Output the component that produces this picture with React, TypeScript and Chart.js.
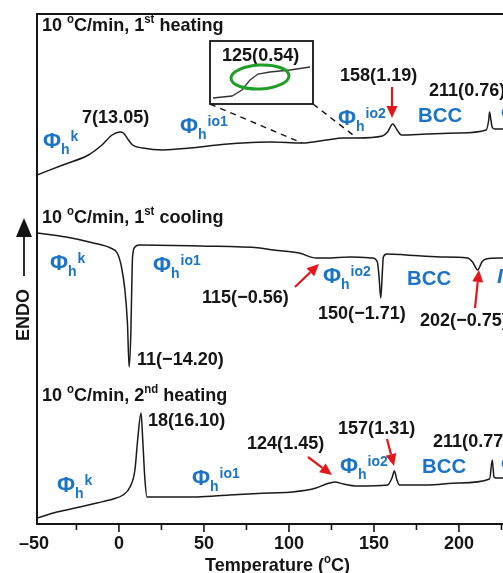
import React, { useEffect, useRef } from 'react';
import { Chart, registerables } from 'chart.js';

Chart.register(...registerables);

// ---- data (temperature in °C, heat flow in arbitrary stacked units) ----
const heat1T = [-48.2, -33, -18, -10, -4, 0.6, 2.6, 5.6, 8, 14, 26, 42, 58, 73, 89, 108, 122, 132, 140, 155, 158, 161, 164, 166, 181, 200, 216, 217.5, 218, 218.8, 219.5, 221, 226];
const heat1Y = [349, 359, 369, 379, 389, 392, 391, 384, 379, 376, 374, 376, 379, 381, 382, 381, 384, 386, 386, 388, 392, 400, 393, 389, 390, 391, 394, 404, 412, 404, 397, 395, 395];

const coolT = [-48.2, -31, -15, -5, -1, 1.5, 3.5, 5, 6, 7, 7.5, 8, 9.4, 12, 48, 83, 91, 106, 116, 122, 136, 149, 152, 153, 154, 155, 155.5, 157.6, 169, 189, 205, 208, 211, 213.5, 216, 226];
const coolY = [291, 287, 281, 276, 271, 257, 234, 201, 157, 191, 234, 267, 277, 279, 278, 276, 274, 271, 266, 266, 267, 266, 262, 247, 226, 254, 267, 270, 269, 267, 266, 262, 254, 262, 265, 266];

const heat2T = [-48.2, -36.5, -23, -13, -3.5, 2.4, 6.5, 9.4, 11, 13, 14, 15.3, 16.5, 20, 46, 65, 89, 102, 116, 122, 127, 132, 140, 158, 160.6, 162, 163.5, 165, 181, 200, 218, 219.6, 220.6, 222, 226];
const heat2Y = [6, 12, 17, 21, 25, 29, 37, 54, 84, 111, 84, 44, 27, 27, 27, 29, 31, 32, 36, 40, 42, 40, 38, 39, 46, 53, 44, 39, 39, 41, 45, 64, 47, 46, 46];

// inset (zoom of 1st heating around 125 °C)
const insetT = [100.5, 110, 115, 119, 123, 129, 139, 149];
const insetY = [6, 8, 14, 24, 30, 32, 34, 37];

const majorTicks = [-50, 0, 50, 100, 150, 200];
const minorTicks = [-25, 25, 75, 125, 175, 225];

const X_MIN = -48.2;
const X_MAX = 225.9;
const Y_MIN = 0;
const Y_MAX = 510;

const FONT = '"Liberation Sans", Arial, Helvetica, sans-serif';
const BLUE = '#1b74c5';
const RED = '#e3161c';
const INK = '#151515';

type Part = { t: string; size?: number; dy?: number; italic?: boolean };

function rich(ctx: CanvasRenderingContext2D, x: number, y: number, parts: Part[], base = 19, color = INK, sx = 0.95) {
  ctx.save();
  ctx.translate(x, y);
  ctx.scale(sx, 1);
  ctx.fillStyle = color;
  ctx.textBaseline = 'alphabetic';
  ctx.textAlign = 'left';
  let cx = 0;
  for (const p of parts) {
    const s = p.size ?? base;
    ctx.font = `${p.italic ? 'italic ' : ''}bold ${s}px ${FONT}`;
    ctx.fillText(p.t, cx, p.dy ?? 0);
    cx += ctx.measureText(p.t).width;
  }
  ctx.restore();
}

function phase(ctx: CanvasRenderingContext2D, x: number, y: number, sup: string) {
  ctx.save();
  ctx.fillStyle = BLUE;
  ctx.textBaseline = 'alphabetic';
  ctx.textAlign = 'left';
  ctx.font = `bold 22px ${FONT}`;
  ctx.fillText('Φ', x, y);
  const w = ctx.measureText('Φ').width;
  ctx.font = `bold 14px ${FONT}`;
  ctx.fillText('h', x + w, y + 6);
  const w2 = ctx.measureText('h').width;
  ctx.font = `bold 14px ${FONT}`;
  ctx.fillText(sup, x + w + w2 + 1, y - 7);
  ctx.restore();
}

function arrow(ctx: CanvasRenderingContext2D, x1: number, y1: number, x2: number, y2: number, color = RED) {
  const a = Math.atan2(y2 - y1, x2 - x1);
  const len = 12;
  const hw = 5.5;
  const bx = x2 - len * Math.cos(a);
  const by = y2 - len * Math.sin(a);
  ctx.save();
  ctx.strokeStyle = color;
  ctx.fillStyle = color;
  ctx.lineWidth = 2.2;
  ctx.beginPath();
  ctx.moveTo(x1, y1);
  ctx.lineTo(bx, by);
  ctx.stroke();
  ctx.beginPath();
  ctx.moveTo(x2, y2);
  ctx.lineTo(bx + hw * Math.sin(a), by - hw * Math.cos(a));
  ctx.lineTo(bx - hw * Math.sin(a), by + hw * Math.cos(a));
  ctx.closePath();
  ctx.fill();
  ctx.restore();
}

const decorPlugin = {
  id: 'decor',
  afterDatasetsDraw(chart: any) {
    const ctx: CanvasRenderingContext2D = chart.ctx;
    const { left, top, right, bottom } = chart.chartArea;
    const xs = chart.scales.x;
    ctx.save();

    // frame
    ctx.strokeStyle = INK;
    ctx.lineWidth = 2;
    ctx.beginPath();
    ctx.moveTo(right + 2, top);
    ctx.lineTo(left, top);
    ctx.lineTo(left, bottom);
    ctx.lineTo(right + 2, bottom);
    ctx.stroke();

    // ticks
    ctx.lineWidth = 1.6;
    for (const v of [...majorTicks, ...minorTicks]) {
      if (v < X_MIN || v > X_MAX + 1) continue;
      const px = xs.getPixelForValue(v);
      const len = majorTicks.includes(v) ? 8 : 6;
      ctx.beginPath();
      ctx.moveTo(px, bottom);
      ctx.lineTo(px, bottom + len);
      ctx.stroke();
    }
    // tick labels
    ctx.fillStyle = INK;
    for (const v of majorTicks) {
      const px = xs.getPixelForValue(v);
      const label = v < 0 ? '–' + Math.abs(v) : String(v);
      ctx.save();
      ctx.translate(px, bottom + 25);
      ctx.scale(0.95, 1);
      ctx.font = `bold 19px ${FONT}`;
      ctx.textAlign = 'center';
      ctx.textBaseline = 'alphabetic';
      ctx.fillText(label, 0, 0);
      ctx.restore();
    }
    // axis title
    rich(ctx, 205, 571, [{ t: 'Temperature (' }, { t: 'o', size: 12, dy: -8 }, { t: 'C)' }]);

    // ENDO
    ctx.save();
    ctx.translate(24, 315);
    ctx.rotate(-Math.PI / 2);
    ctx.font = `bold 18px ${FONT}`;
    ctx.textAlign = 'center';
    ctx.textBaseline = 'middle';
    ctx.fillStyle = INK;
    ctx.fillText('ENDO', 0, 0);
    ctx.restore();
    ctx.strokeStyle = INK;
    ctx.fillStyle = INK;
    ctx.lineWidth = 1.8;
    ctx.beginPath();
    ctx.moveTo(24, 276);
    ctx.lineTo(24, 236);
    ctx.stroke();
    ctx.beginPath();
    ctx.moveTo(24, 218);
    ctx.lineTo(16, 237);
    ctx.lineTo(32, 237);
    ctx.closePath();
    ctx.fill();

    const sup = (t: string): Part => ({ t, size: 12, dy: -8 });

    // ---- panel 1: 1st heating ----
    rich(ctx, 42, 31, [{ t: '10 ' }, sup('o'), { t: 'C/min, 1' }, sup('st'), { t: ' heating' }]);
    rich(ctx, 82, 123, [{ t: '7(13.05)' }]);
    phase(ctx, 43, 148, 'k');
    phase(ctx, 180, 133, 'io1');
    phase(ctx, 338, 125, 'io2');
    rich(ctx, 418, 122, [{ t: 'BCC' }], 21, BLUE, 0.97);
    rich(ctx, 501, 120, [{ t: 'Φ' }], 21, BLUE, 1);
    rich(ctx, 340, 81, [{ t: '158(1.19)' }]);
    rich(ctx, 429, 96, [{ t: '211(0.76)' }]);
    arrow(ctx, 392, 87, 392, 118);

    // dashed connectors
    ctx.save();
    ctx.strokeStyle = INK;
    ctx.lineWidth = 1.4;
    ctx.setLineDash([6, 5]);
    ctx.beginPath();
    ctx.moveTo(210, 104);
    ctx.lineTo(302, 143);
    ctx.moveTo(313, 104);
    ctx.lineTo(357, 138);
    ctx.stroke();
    ctx.restore();

    // inset box
    const bx0 = 210, by0 = 41, bx1 = 313, by1 = 104;
    ctx.fillStyle = '#fff';
    ctx.fillRect(bx0, by0, bx1 - bx0, by1 - by0);
    ctx.strokeStyle = INK;
    ctx.lineWidth = 1.8;
    ctx.strokeRect(bx0, by0, bx1 - bx0, by1 - by0);
    rich(ctx, 222, 61, [{ t: '125(0.54)' }]);
    ctx.save();
    ctx.beginPath();
    ctx.rect(bx0, by0, bx1 - bx0, by1 - by0);
    ctx.clip();
    ctx.strokeStyle = '#333';
    ctx.lineWidth = 1.3;
    ctx.beginPath();
    insetT.forEach((t, i) => {
      const px = bx0 + 2 + (t - 100) * 2;
      const py = by1 - insetY[i];
      if (i === 0) ctx.moveTo(px, py);
      else ctx.lineTo(px, py);
    });
    ctx.stroke();
    ctx.strokeStyle = '#1e9e26';
    ctx.lineWidth = 3;
    ctx.beginPath();
    ctx.ellipse(260, 77, 29, 12, -0.05, 0, Math.PI * 2);
    ctx.stroke();
    ctx.restore();

    // ---- panel 2: 1st cooling ----
    rich(ctx, 42, 223, [{ t: '10 ' }, sup('o'), { t: 'C/min, 1' }, sup('st'), { t: ' cooling' }]);
    phase(ctx, 50, 270, 'k');
    phase(ctx, 153, 272, 'io1');
    rich(ctx, 202, 303, [{ t: '115(−0.56)' }]);
    arrow(ctx, 295, 287, 319, 264);
    phase(ctx, 323, 283, 'io2');
    rich(ctx, 318, 319, [{ t: '150(−1.71)' }]);
    rich(ctx, 407, 285, [{ t: 'BCC' }], 21, BLUE, 0.97);
    arrow(ctx, 475, 308, 479, 270);
    rich(ctx, 420, 326, [{ t: '202(−0.75)' }]);
    rich(ctx, 497, 283, [{ t: 'I', italic: true }], 21, BLUE, 1);
    rich(ctx, 137, 365, [{ t: '11(−14.20)' }]);

    // ---- panel 3: 2nd heating ----
    rich(ctx, 42, 401, [{ t: '10 ' }, sup('o'), { t: 'C/min, 2' }, sup('nd'), { t: ' heating' }]);
    rich(ctx, 148, 426, [{ t: '18(16.10)' }]);
    phase(ctx, 57, 492, 'k');
    phase(ctx, 192, 485, 'io1');
    rich(ctx, 247, 449, [{ t: '124(1.45)' }]);
    arrow(ctx, 308, 457, 332, 475);
    phase(ctx, 340, 473, 'io2');
    rich(ctx, 338, 434, [{ t: '157(1.31)' }]);
    arrow(ctx, 387, 439, 394, 466);
    rich(ctx, 422, 473, [{ t: 'BCC' }], 21, BLUE, 0.97);
    rich(ctx, 501, 471, [{ t: 'Φ' }], 21, BLUE, 1);
    rich(ctx, 433, 447, [{ t: '211(0.77)' }]);

    ctx.restore();
  },
};

const toPts = (xs: number[], ys: number[]) => xs.map((x, i) => ({ x, y: ys[i] }));

export default function App() {
  const ref = useRef<HTMLCanvasElement | null>(null);
  useEffect(() => {
    if (!ref.current) return;
    const line = (data: { x: number; y: number }[]) => ({
      data,
      borderColor: '#1a1a1a',
      borderWidth: 1.5,
      pointRadius: 0,
      showLine: true,
      fill: false,
      cubicInterpolationMode: 'monotone' as const,
    });
    const chart = new Chart(ref.current, {
      type: 'scatter',
      data: {
        datasets: [
          line(toPts(heat1T, heat1Y)),
          line(toPts(coolT, coolY)),
          line(toPts(heat2T, heat2Y)),
        ],
      },
      options: {
        responsive: false,
        animation: false,
        devicePixelRatio: 1,
        layout: { padding: { left: 37, top: 14, right: 0, bottom: 49 } },
        scales: {
          x: { type: 'linear', display: false, min: X_MIN, max: X_MAX },
          y: { type: 'linear', display: false, min: Y_MIN, max: Y_MAX },
        },
        plugins: { legend: { display: false }, tooltip: { enabled: false } },
      },
      plugins: [decorPlugin],
    });
    return () => chart.destroy();
  }, []);
  return (
    <div style={{ position: 'absolute', left: 0, top: 0, width: 503, height: 573, background: '#fff' }}>
      <canvas ref={ref} width={503} height={573} style={{ display: 'block' }} />
    </div>
  );
}
